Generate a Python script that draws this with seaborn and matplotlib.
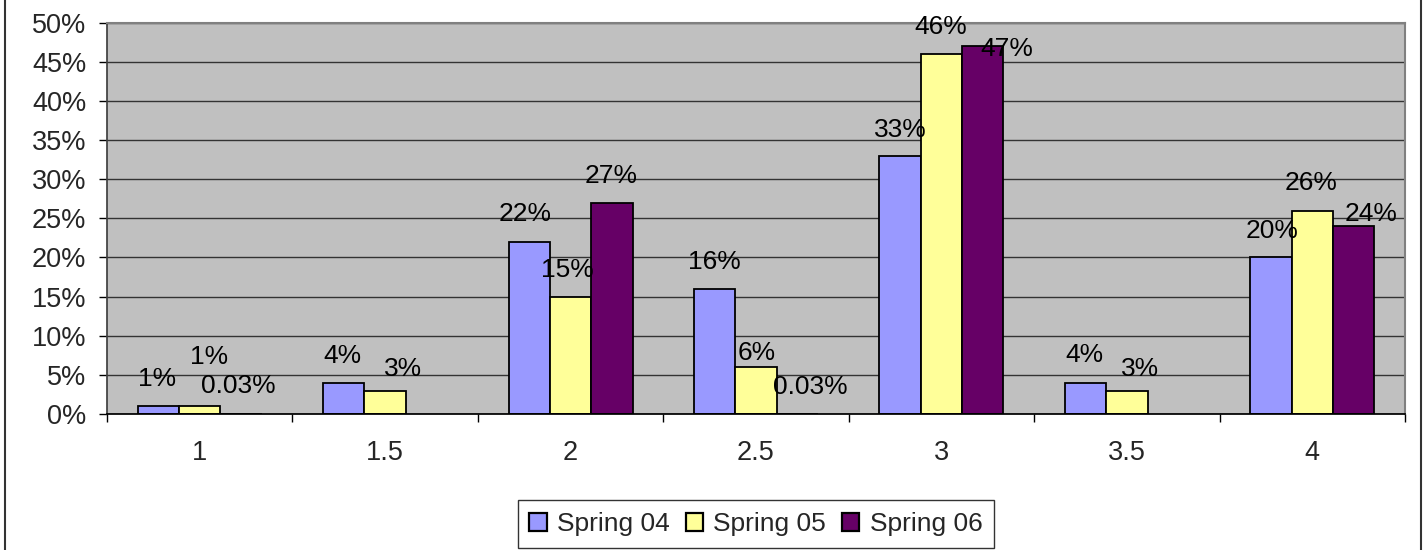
import numpy as np
import pandas as pd
import matplotlib
matplotlib.use('Agg')
import matplotlib.pyplot as plt
import seaborn as sns
from matplotlib.lines import Line2D
from matplotlib.ticker import FuncFormatter

# ---- data ----
categories = ['1', '1.5', '2', '2.5', '3', '3.5', '4']
series = ['Spring 04', 'Spring 05', 'Spring 06']
spring04 = [1, 4, 22, 16, 33, 4, 20]
spring05 = [1, 3, 15, 6, 46, 3, 26]
spring06 = [0.03, np.nan, 27, 0.03, 47, np.nan, 24]

# ---- styles ----
colors = ['#9999FF', '#FFFF99', '#660066']
# label offsets in pixels relative to bar top centre (per series, per category)
label_dx = [[-1, -1, -4, 0, 0, -1, 1],
            [9, 18, -3, 1, -1, 13, -1],
            [-3, 0, -1, 13, 24, 0, 17]]
label_dy = [[27, 27, 28, 27, 26, 28, 26],
            [49, 22, 27, 14, 27, 22, 28],
            [28, 0, 27, 27, -2.5, 0, 12]]

values = [spring04, spring05, spring06]
df = pd.DataFrame({
    'category': categories * 3,
    'value': spring04 + spring05 + spring06,
    'series': np.repeat(series, len(categories)),
})

sns.set_theme(style='white')
plt.rcParams['font.family'] = ['Liberation Sans', 'DejaVu Sans']

W, H = 1424, 550
fig = plt.figure(figsize=(W / 100, H / 100), dpi=100)
ax = fig.add_axes([107 / W, 136 / H, 1298 / W, (414 - 22.7) / H])
ax.set_facecolor('#C0C0C0')

sns.barplot(data=df, x='category', y='value', hue='series', order=categories,
            hue_order=series, palette=colors, edgecolor='black', linewidth=1.3,
            width=0.669, gap=0, errorbar=None, saturation=1, ax=ax)

ax.set_xlim(-0.5, 6.5)
ax.set_ylim(0, 50)
ax.set_yticks(range(0, 51, 5))
ax.yaxis.set_major_formatter(FuncFormatter(lambda v, p: f'{v:g}%'))
ax.yaxis.grid(True, color='#333333', lw=1)
ax.set_axisbelow(True)
ax.set_xlabel('')
ax.set_ylabel('')

ax.tick_params(axis='y', which='major', direction='out', length=5.8, width=1,
               color='black', pad=9, labelsize=19.5, left=True)
ax.set_xticks(range(len(categories)))
ax.set_xticklabels(categories)
ax.tick_params(axis='x', which='major', length=0, pad=19, labelsize=19.5)
ax.set_xticks(np.arange(-0.5, len(categories), 1), minor=True)
ax.tick_params(axis='x', which='minor', direction='out', length=5.8, width=1,
               color='black', bottom=True)

for s in ['top', 'right']:
    ax.spines[s].set_color('#808080')
    ax.spines[s].set_linewidth(1.5)
ax.spines['left'].set_color('#404040')
ax.spines['bottom'].set_color('black')
for s in ax.spines.values():
    s.set_visible(True)

# data labels
for i, cont in enumerate(ax.containers):
    for patch in cont:
        h = patch.get_height()
        if h is None or np.isnan(h):
            continue
        xc = patch.get_x() + patch.get_width() / 2
        ci = int(round(xc))
        v = values[i][ci]
        if v is None or np.isnan(v):
            continue
        ax.annotate(f'{v:g}%', xy=(xc, v), xytext=(label_dx[i][ci], label_dy[i][ci]),
                    textcoords='offset pixels', ha='center', va='center',
                    fontsize=19, color='black', annotation_clip=False)

# legend
sns.move_legend(ax, 'center', bbox_to_anchor=((756 - 107) / 1298, (26 - 136) / 391.3),
                ncol=3, title=None, frameon=True, fontsize=19,
                handlelength=0.65, handleheight=0.65, handletextpad=0.4,
                columnspacing=0.6, borderpad=0.45, fancybox=False)
leg = ax.get_legend()
leg.get_frame().set_edgecolor('black')
leg.get_frame().set_linewidth(1)
for hnd in leg.legend_handles:
    hnd.set_linewidth(1.6)
    hnd.set_edgecolor('black')

# outer chart border (left and right edges visible)
fig.add_artist(Line2D([5 / W, 5 / W], [0, 1], transform=fig.transFigure, color='#333333', lw=1.5))
fig.add_artist(Line2D([1421 / W, 1421 / W], [0, 1], transform=fig.transFigure, color='#333333', lw=1.5))

fig.savefig('out.png', dpi=100, facecolor='white')
